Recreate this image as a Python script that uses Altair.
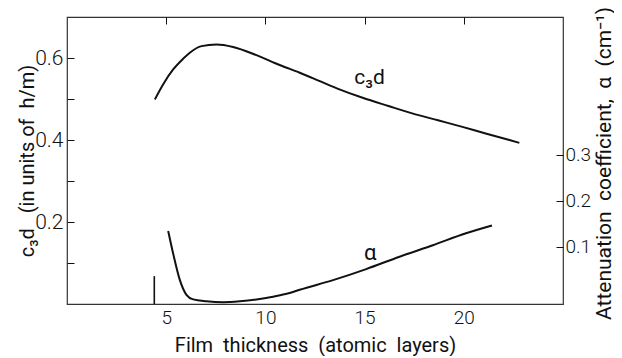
import altair as alt
import pandas as pd

# c3d curve (left axis, units of h/m)
c3d_x = [4.43, 4.85, 5.35, 5.85, 6.19, 6.78, 7.53, 8.37, 9.55, 10.72, 11.73, 12.38,
         13.6, 14.9, 16.2, 17.4, 18.7, 19.93, 21.1, 22.3, 22.8]
c3d_y = [0.499, 0.536, 0.572, 0.598, 0.613, 0.629, 0.633, 0.627, 0.607, 0.583, 0.564, 0.551,
         0.526, 0.503, 0.483, 0.465, 0.448, 0.432, 0.416, 0.400, 0.393]

# attenuation coefficient alpha (right axis, cm^-1)
alpha_x = [5.1, 5.35, 5.69, 6.02, 6.36, 7.03, 7.87, 8.71, 9.55, 10.38, 11.22, 11.73,
           13.41, 15.08, 16.76, 18.44, 20.11, 21.42]
alpha_y = [0.134, 0.085, 0.027, -0.005, -0.015, -0.019, -0.021, -0.019, -0.015, -0.009, -0.001, 0.006,
           0.027, 0.051, 0.078, 0.103, 0.129, 0.146]

# short vertical marker near the left end
marker_x = [4.4]
marker_y0 = [0.0]
marker_y1 = [0.068]

# in-plot curve labels
c3d_label = ["c₃d"]
c3d_label_x = [15.25]
c3d_label_y = [0.551]
alpha_label = ["α"]
alpha_label_x = [15.28]
alpha_label_y = [0.085]

x_ticks = [5, 10, 15, 20]
left_ticks = [0.1, 0.2, 0.3, 0.4, 0.5, 0.6]
right_ticks = [0.1, 0.2, 0.3]

NB = "\u00a0"
x_title = f"Film{NB} thickness{NB} (atomic{NB} layers)"
left_title = f"c₃d{NB}{NB} (in units of{NB} h/m)"
right_title = f"Attenuation{NB} coefficient,{NB} α{NB} (cm⁻¹)"

FONT = "Roboto"
INK = "#111111"

df_c3d = pd.DataFrame({"x": c3d_x, "y": c3d_y})
df_alpha = pd.DataFrame({"x": alpha_x, "y": alpha_y})
df_marker = pd.DataFrame({"x": marker_x, "y": marker_y0, "y2": marker_y1})
df_c3d_lab = pd.DataFrame({"x": c3d_label_x, "y": c3d_label_y, "t": c3d_label})
df_alpha_lab = pd.DataFrame({"x": alpha_label_x, "y": alpha_label_y, "t": alpha_label})

tick_common = dict(
    grid=True, gridDash=[7, 3000], gridColor=INK, gridWidth=1, gridOpacity=1,
    ticks=False, domain=False, labelColor=INK, titleColor=INK,
    labelFont=FONT, titleFont=FONT, titleFontWeight="normal", labelFontWeight=300,
    labelFlush=False, labelOverlap=False,
)

x_axis = alt.Axis(values=x_ticks, format="d", labelFontSize=19, labelPadding=4,
                  title=x_title, titleFontSize=20,
                  titleY=47, titleBaseline="alphabetic", **tick_common)

left_axis = alt.Axis(values=left_ticks,
                     labelExpr="round(datum.value*10) % 2 == 0 ? format(datum.value, '.1f') : ''",
                     labelFontSize=21, labelPadding=4,
                     title=left_title, titleFontSize=20, titleAngle=270,
                     titleX=-34, titleY=143.5, titleBaseline="alphabetic", **tick_common)

right_axis = alt.Axis(values=right_ticks, format=".1f", orient="right",
                      labelFontSize=19, labelPadding=2,
                      title=right_title, titleFontSize=21,
                      titleAngle=270, titleX=47, titleY=146, titleBaseline="alphabetic",
                      **tick_common)

xs = alt.X("x:Q", scale=alt.Scale(domain=[0, 25], nice=False, zero=False), axis=x_axis)
yl = alt.Y("y:Q", scale=alt.Scale(domain=[0, 0.7], nice=False, zero=False), axis=left_axis)
yr = alt.Y("y:Q", scale=alt.Scale(domain=[-0.025, 0.6], nice=False, zero=False), axis=right_axis)

c3d_line = alt.Chart(df_c3d).mark_line(color=INK, strokeWidth=2, interpolate="monotone").encode(x=xs, y=yl)
marker = alt.Chart(df_marker).mark_rule(color=INK, strokeWidth=1.6).encode(x=xs, y=yl, y2="y2:Q")
c3d_text = alt.Chart(df_c3d_lab).mark_text(font=FONT, fontSize=21, color=INK).encode(x=xs, y=yl, text="t:N")

alpha_line = alt.Chart(df_alpha).mark_line(color=INK, strokeWidth=2, interpolate="monotone").encode(x=xs, y=yr)
alpha_text = alt.Chart(df_alpha_lab).mark_text(font=FONT, fontSize=22, color=INK).encode(x=xs, y=yr, text="t:N")

left = alt.layer(c3d_line, marker, c3d_text)
right = alt.layer(alpha_line, alpha_text)

chart = alt.layer(left, right).resolve_scale(y="independent").properties(
    width=496, height=287,
    padding={"left": 59, "top": 9, "right": 51, "bottom": 52},
    autosize=alt.AutoSizeParams(type="none"),
    background="white",
).configure_view(stroke="#333333", strokeWidth=1.2)

chart.save("out.html", embed_options={"renderer": "svg", "actions": False})
